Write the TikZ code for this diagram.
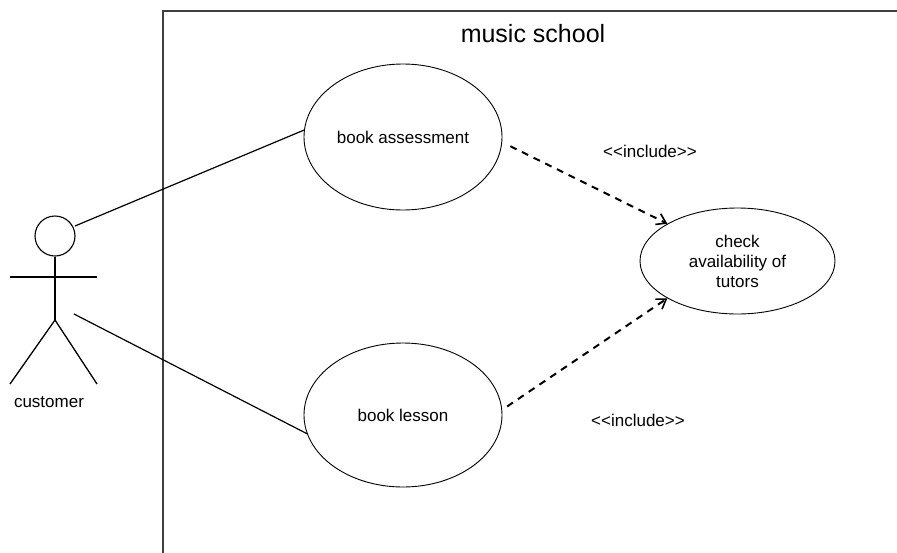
\documentclass[tikz,border=0pt]{standalone}
\usepackage{fontspec}
\setmainfont{Liberation Sans}
\usetikzlibrary{shapes.geometric,arrows.meta}
\newcommand{\inclabel}{<\kern0pt<\kern0pt include>\kern0pt>}
\begin{document}
\begin{tikzpicture}[x=1pt,y=-1pt,
  usecase/.style={draw=black,line width=0.9pt,ellipse,inner sep=0pt,align=center,font=\fontsize{17}{20}\selectfont},
  lbl/.style={inner sep=0pt,font=\fontsize{17}{20}\selectfont},
  assoc/.style={draw=black,line width=1.2pt},
  incl/.style={draw=black,line width=2pt,dash pattern=on 7pt off 6pt,-{Straight Barb[length=9pt,width=12pt,line width=1.6pt]}},
  actorline/.style={draw=black,line width=1.3pt}]
\useasboundingbox (0,0) rectangle (897,552);
% system boundary
\draw[line width=1.3pt,draw=black!75] (163,560) -- (163,11) -- (905,11);
\node[inner sep=0pt,anchor=base,font=\fontsize{25}{30}\selectfont] (title) at (533,42) {music school};
% actor
\node[draw=black,line width=1.1pt,circle,minimum size=40pt,inner sep=0pt] (head) at (55,236) {};
\coordinate (neck) at (55,256);
\coordinate (hip) at (55,320);
\coordinate (armL) at (10,277);
\coordinate (armR) at (97,277);
\coordinate (footL) at (10,384);
\coordinate (footR) at (97,384);
\draw[actorline] (head.south) -- (hip);
\draw[actorline] (armL) -- (armR);
\draw[actorline] (footL) -- (hip) -- (footR);
\node[lbl] (customer) at (49,402) {customer};
\coordinate (a1) at (75,226);
\coordinate (a2) at (74,314);
% use cases
\node[usecase,minimum width=198pt,minimum height=146pt] (ba) at (403,137) {book assessment};
\node[usecase,minimum width=198pt,minimum height=144pt] (bl) at (403,415) {book lesson};
\node[usecase,minimum width=195pt,minimum height=106pt] (ca) at (737.5,261) {check\\availability of\\tutors};
% associations
\draw[assoc] (a1) -- (ba.176);
\draw[assoc] (a2) -- (bl.191);
% includes
\draw[incl,shorten <=9pt] (ba.357) -- (ca.152);
\draw[incl,shorten <=6pt] (bl.3) -- (ca.208);
\node[lbl] (inc1) at (650,151) {\inclabel};
\node[lbl] (inc2) at (638,420) {\inclabel};
\end{tikzpicture}
\end{document}
